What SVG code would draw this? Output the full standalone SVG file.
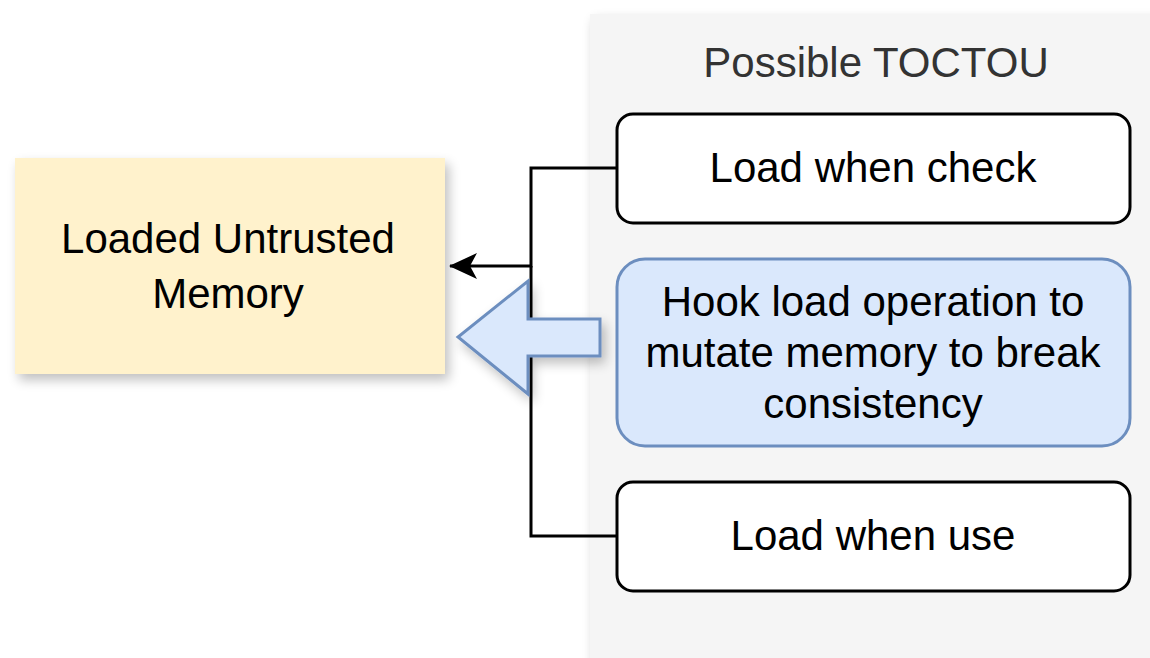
<svg xmlns="http://www.w3.org/2000/svg" width="1150" height="658" viewBox="0 0 1150 658">
<style>
  text { font-family: "Liberation Sans", Arial, sans-serif; fill: #000; text-anchor: middle; }
  .lbl { font-size: 42px; }
  .title { font-size: 42px; fill: #333333; }
  .box { fill: #ffffff; stroke: #000000; stroke-width: 3; }
  .hook { fill: #dae8fc; stroke: #6c8ebf; stroke-width: 3; }
  .conn { fill: none; stroke: #000000; stroke-width: 3; }
</style>
<defs>
  <filter id="shadow" x="-20%" y="-20%" width="140%" height="140%">
    <feGaussianBlur in="SourceAlpha" stdDeviation="6"/>
    <feOffset dx="4" dy="6" result="b"/>
    <feComponentTransfer><feFuncA type="linear" slope="0.25"/></feComponentTransfer>
    <feMerge><feMergeNode/><feMergeNode in="SourceGraphic"/></feMerge>
  </filter>
  <marker id="arrow" viewBox="0 0 28 28" refX="27" refY="14" markerWidth="28" markerHeight="28" markerUnits="userSpaceOnUse" orient="auto">
    <path d="M0,1 L28,14 L0,27 L7,14 Z" fill="#000"/>
  </marker>
</defs>
<rect width="1150" height="658" fill="#ffffff"/>
<g id="container">
  <rect x="590" y="14" width="575" height="660" fill="#f5f5f5" filter="url(#shadow)"/>
  <text class="title" x="876" y="77">Possible TOCTOU</text>
</g>
<g id="memory">
  <rect x="15" y="158" width="430" height="216" fill="#fff2cc" filter="url(#shadow)"/>
  <text class="lbl" x="228" y="253">Loaded Untrusted</text>
  <text class="lbl" x="228" y="308">Memory</text>
</g>
<g id="connectors">
  <path class="conn" d="M617,168 H531 V266 H450" marker-end="url(#arrow)"/>
  <path class="conn" d="M617,536 H531 V266"/>
</g>
<g id="block-arrow">
  <path class="hook" d="M600,319 H528 V281 L458,337 L528,394 V356 H600 Z" filter="url(#shadow)"/>
</g>
<g id="check">
  <rect class="box" x="617" y="114" width="513" height="109" rx="16"/>
  <text class="lbl" x="873" y="182">Load when check</text>
</g>
<g id="hook">
  <rect class="hook" x="617" y="259" width="513" height="187" rx="28"/>
  <text class="lbl" x="873" y="316">Hook load operation to</text>
  <text class="lbl" x="873" y="367">mutate memory to break</text>
  <text class="lbl" x="873" y="418">consistency</text>
</g>
<g id="use">
  <rect class="box" x="617" y="482" width="513" height="109" rx="16"/>
  <text class="lbl" x="873" y="550">Load when use</text>
</g>
</svg>
